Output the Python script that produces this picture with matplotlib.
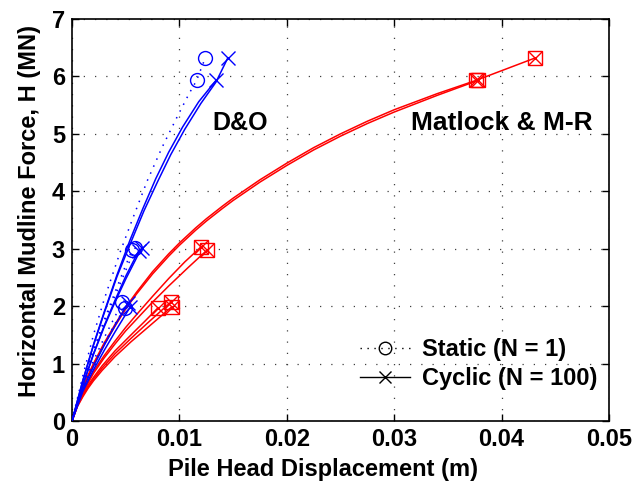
import matplotlib
matplotlib.use("Agg")
import matplotlib.pyplot as plt
from matplotlib.lines import Line2D

plt.rcParams["font.family"] = ["Liberation Sans", "DejaVu Sans"]
plt.rcParams["font.weight"] = "bold"

BLUE = (0.0, 0.0, 1.0)
RED = (1.0, 0.0, 0.0)

# --- D&O curves (displacement m, force MN) ---
do_sta_hi_x = [0, 0.001, 0.002, 0.003, 0.0045, 0.0056, 0.0070, 0.0084, 0.0098, 0.0109, 0.0116, 0.0124]
do_sta_hi_y = [0, 0.78, 1.50, 2.12, 2.95, 3.50, 4.18, 4.77, 5.30, 5.70, 5.93, 6.32]
do_cyc_hi_a_x = [0, 0.001, 0.002, 0.003, 0.0042, 0.0054, 0.0066, 0.0078, 0.0090, 0.0103, 0.0118, 0.0134]
do_cyc_hi_a_y = [0, 0.70, 1.33, 1.90, 2.55, 3.15, 3.70, 4.22, 4.68, 5.12, 5.56, 5.93]
do_cyc_hi_b_x = [0, 0.001, 0.002, 0.003, 0.0042, 0.0055, 0.0067, 0.0080, 0.0092, 0.0105, 0.0120, 0.0134, 0.0145]
do_cyc_hi_b_y = [0, 0.70, 1.32, 1.88, 2.52, 3.12, 3.66, 4.18, 4.64, 5.08, 5.53, 5.90, 6.32]

do_sta_mid_a_x = [0, 0.001, 0.002, 0.003, 0.004, 0.0048, 0.0056]
do_sta_mid_a_y = [0, 0.66, 1.24, 1.76, 2.24, 2.62, 2.98]
do_sta_mid_b_x = [0, 0.001, 0.002, 0.003, 0.004, 0.005, 0.0059]
do_sta_mid_b_y = [0, 0.64, 1.21, 1.72, 2.18, 2.62, 3.02]
do_cyc_mid_a_x = [0, 0.001, 0.002, 0.003, 0.004, 0.005, 0.0062]
do_cyc_mid_a_y = [0, 0.62, 1.17, 1.66, 2.10, 2.52, 2.96]
do_cyc_mid_b_x = [0, 0.001, 0.002, 0.003, 0.004, 0.005, 0.0065]
do_cyc_mid_b_y = [0, 0.62, 1.16, 1.64, 2.07, 2.47, 3.02]

do_sta_lo_a_x = [0, 0.001, 0.002, 0.003, 0.004, 0.0047]
do_sta_lo_a_y = [0, 0.60, 1.05, 1.45, 1.82, 2.07]
do_sta_lo_b_x = [0, 0.001, 0.002, 0.003, 0.004, 0.0049]
do_sta_lo_b_y = [0, 0.56, 0.98, 1.35, 1.69, 1.97]
do_cyc_lo_a_x = [0, 0.001, 0.002, 0.003, 0.004, 0.0052]
do_cyc_lo_a_y = [0, 0.55, 0.95, 1.32, 1.66, 2.05]
do_cyc_lo_b_x = [0, 0.001, 0.002, 0.003, 0.004, 0.0054]
do_cyc_lo_b_y = [0, 0.51, 0.89, 1.23, 1.55, 1.98]

# --- Matlock & M-R curves (static and cyclic coincide) ---
mr_hi_a_x = [0, 0.0005, 0.001, 0.0015, 0.002, 0.003, 0.004, 0.005, 0.006, 0.0075, 0.009, 0.010,
             0.0115, 0.0125, 0.014, 0.015, 0.0175, 0.020, 0.0225, 0.025, 0.0275, 0.030, 0.034,
             0.0376, 0.0431]
mr_hi_a_y = [0, 0.32, 0.58, 0.80, 1.00, 1.36, 1.68, 1.98, 2.24, 2.60, 2.91, 3.10,
             3.36, 3.52, 3.74, 3.88, 4.20, 4.49, 4.76, 5.00, 5.22, 5.42, 5.70,
             5.93, 6.32]
mr_hi_b_x = [0, 0.0005, 0.001, 0.0015, 0.002, 0.003, 0.004, 0.005, 0.006, 0.0075, 0.009, 0.010,
             0.0115, 0.0125, 0.014, 0.015, 0.0175, 0.020, 0.0225, 0.025, 0.0275, 0.030, 0.034,
             0.0378]
mr_hi_b_y = [0, 0.31, 0.57, 0.78, 0.98, 1.33, 1.65, 1.95, 2.21, 2.56, 2.87, 3.06,
             3.32, 3.48, 3.70, 3.84, 4.16, 4.45, 4.72, 4.96, 5.18, 5.38, 5.67,
             5.93]
mr_mid_a_x = [0, 0.0005, 0.001, 0.0015, 0.002, 0.003, 0.004, 0.005, 0.006, 0.0075, 0.009, 0.0105, 0.0120]
mr_mid_a_y = [0, 0.28, 0.50, 0.69, 0.86, 1.14, 1.39, 1.63, 1.85, 2.17, 2.48, 2.77, 3.03]
mr_mid_b_x = [0, 0.0005, 0.001, 0.0015, 0.002, 0.003, 0.004, 0.005, 0.006, 0.0075, 0.009, 0.0108, 0.0126]
mr_mid_b_y = [0, 0.27, 0.48, 0.66, 0.83, 1.10, 1.34, 1.57, 1.77, 2.07, 2.35, 2.67, 2.98]
mr_lo_a_x = [0, 0.0005, 0.001, 0.0015, 0.002, 0.0028, 0.004, 0.0055, 0.0068, 0.0080]
mr_lo_a_y = [0, 0.27, 0.46, 0.62, 0.76, 0.96, 1.22, 1.50, 1.74, 1.97]
mr_lo_b_x = [0, 0.0005, 0.001, 0.0015, 0.002, 0.0028, 0.004, 0.0055, 0.007, 0.0092]
mr_lo_b_y = [0, 0.26, 0.44, 0.59, 0.73, 0.92, 1.17, 1.44, 1.70, 2.07]
mr_lo_c_x = [0, 0.0005, 0.001, 0.0015, 0.002, 0.0028, 0.004, 0.0055, 0.007, 0.0093]
mr_lo_c_y = [0, 0.25, 0.42, 0.57, 0.70, 0.88, 1.12, 1.38, 1.62, 1.99]

x_ticks = [0, 0.01, 0.02, 0.03, 0.04, 0.05]
x_tick_labels = ["0", "0.01", "0.02", "0.03", "0.04", "0.05"]
y_ticks = [0, 1, 2, 3, 4, 5, 6, 7]

DOTTED = (0, (1, 4))
MS = 10
FS = 17


def curve(ax, x, y, color, static, marks=(-1,), zorder=3):
    if static:
        ls, mk = DOTTED, "o"
    else:
        ls, mk = "-", "x"
    ax.plot(x, y, color=color, lw=1.1, ls=ls, zorder=zorder)
    idx = [len(x) + i if i < 0 else i for i in marks]
    ax.plot([x[i] for i in idx], [y[i] for i in idx], ls="none", marker=mk,
            ms=MS, mfc="none", mec=color, mew=1.0, zorder=zorder + 1)


def red_curve(ax, x, y, marks=(-1,)):
    idx = [len(x) + i if i < 0 else i for i in marks]
    ax.plot(x, y, color=RED, lw=1.1, ls="-", zorder=2)
    ax.plot([x[i] for i in idx], [y[i] for i in idx], ls="none", marker="s",
            ms=MS, mfc="none", mec=RED, mew=1.0, zorder=2)
    ax.plot([x[i] for i in idx], [y[i] for i in idx], ls="none", marker="x",
            ms=MS, mfc="none", mec=RED, mew=1.0, zorder=2)


fig = plt.figure(figsize=(6.35, 4.91), dpi=100)
ax = fig.add_axes([0.1134, 0.1426, 0.8457, 0.8187])

# Matlock & M-R
red_curve(ax, mr_hi_a_x, mr_hi_a_y, marks=(-2, -1))
red_curve(ax, mr_hi_b_x, mr_hi_b_y)
red_curve(ax, mr_mid_a_x, mr_mid_a_y)
red_curve(ax, mr_mid_b_x, mr_mid_b_y)
red_curve(ax, mr_lo_a_x, mr_lo_a_y)
red_curve(ax, mr_lo_b_x, mr_lo_b_y)
red_curve(ax, mr_lo_c_x, mr_lo_c_y)

# D&O
curve(ax, do_sta_hi_x, do_sta_hi_y, BLUE, True, marks=(-2, -1))
curve(ax, do_cyc_hi_a_x, do_cyc_hi_a_y, BLUE, False)
curve(ax, do_cyc_hi_b_x, do_cyc_hi_b_y, BLUE, False)
curve(ax, do_sta_mid_a_x, do_sta_mid_a_y, BLUE, True)
curve(ax, do_sta_mid_b_x, do_sta_mid_b_y, BLUE, True)
curve(ax, do_cyc_mid_a_x, do_cyc_mid_a_y, BLUE, False)
curve(ax, do_cyc_mid_b_x, do_cyc_mid_b_y, BLUE, False)
curve(ax, do_sta_lo_a_x, do_sta_lo_a_y, BLUE, True)
curve(ax, do_sta_lo_b_x, do_sta_lo_b_y, BLUE, True)
curve(ax, do_cyc_lo_a_x, do_cyc_lo_a_y, BLUE, False)
curve(ax, do_cyc_lo_b_x, do_cyc_lo_b_y, BLUE, False)

ax.set_xlim(0, 0.05)
ax.set_ylim(0, 7)
ax.set_xticks(x_ticks)
ax.set_xticklabels(x_tick_labels)
ax.set_yticks(y_ticks)
ax.tick_params(direction="in", top=True, right=True, length=5, width=1.0,
               labelsize=FS, pad=5)
for sp in ax.spines.values():
    sp.set_linewidth(1.2)
ax.grid(True, color="0.25", ls=(0, (1, 8)), lw=0.9)
ax.set_axisbelow(True)

ax.set_xlabel("Pile Head Displacement (m)", fontsize=FS, fontweight="bold")
ax.set_ylabel("Horizontal Mudline Force, H (MN)", fontsize=FS, fontweight="bold")
ax.xaxis.set_label_coords(0.467, -0.093)
ax.yaxis.set_label_coords(-0.058, 0.522)

ax.text(0.0131, 5.19, "D&O", fontsize=18, fontweight="bold", va="center", ha="left")
ax.text(0.0316, 5.19, "Matlock & M-R", fontsize=19, fontweight="bold", va="center", ha="left")

handles = [
    Line2D([], [], color="k", ls=DOTTED, lw=1.0, marker="o", ms=9, mfc="none", mew=1.0),
    Line2D([], [], color="k", ls="-", lw=1.0, marker="x", ms=9, mew=1.0),
]
leg = ax.legend(handles, ["Static (N = 1)", "Cyclic (N = 100)"], loc="lower right",
                bbox_to_anchor=(1.0, 0.048), frameon=False, fontsize=FS,
                handlelength=2.1, handletextpad=0.5, labelspacing=0.25,
                borderaxespad=0.1)

fig.savefig("out.png", dpi=100)
